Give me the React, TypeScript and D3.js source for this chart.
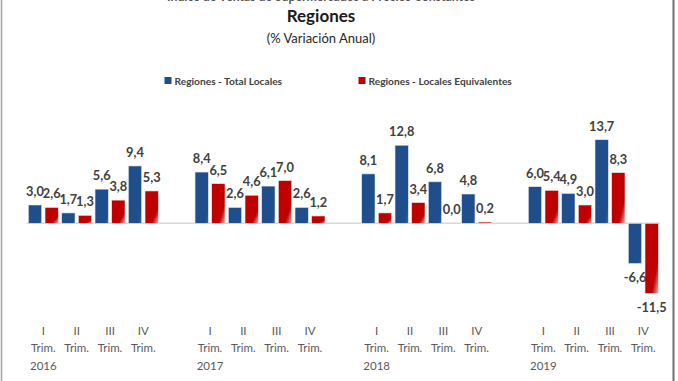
import React from "react";
import * as d3 from "d3";

const years = ["2016", "2017", "2018", "2019"];
const quarters = ["I", "II", "III", "IV"];
const seriesNames = ["Regiones - Total Locales", "Regiones - Locales Equivalentes"];
const seriesColors = ["#1f4e8c", "#c00000"];
const totalLocales = [3.0, 1.7, 5.6, 9.4, 8.4, 2.6, 6.1, 2.6, 8.1, 12.8, 6.8, 4.8, 6.0, 4.9, 13.7, -6.6];
const localesEquivalentes = [2.6, 1.3, 3.8, 5.3, 6.5, 4.6, 7.0, 1.2, 1.7, 3.4, 0.0, 0.2, 5.4, 3.0, 8.3, -11.5];
const titleTop = "Índice de Ventas de Supermercados a Precios Constantes";
const title = "Regiones";
const subtitle = "(% Variación Anual)";

const W = 678;
const H = 381;
const FONT = "Lato, 'Open Sans', sans-serif";

const locale = d3.formatLocale({
  decimal: ",",
  thousands: ".",
  grouping: [3],
  currency: ["", ""],
  minus: "-",
});
const fmt = locale.format(".1f");

type Cat = { key: string; year: string; q: string; qi: number; idx: number };

export default function App() {
  const cats: Cat[] = [];
  const domain: string[] = [];
  years.forEach((y, yi) => {
    quarters.forEach((q, qi) => {
      const key = `${y}-${q}`;
      cats.push({ key, year: y, q, qi, idx: yi * 4 + qi });
      domain.push(key);
    });
    if (yi < years.length - 1) domain.push(`gap-${y}`);
  });

  const x = d3.scaleBand<string>().domain(domain).range([26.7, 660]).padding(0);
  const xs = d3
    .scaleBand<number>()
    .domain([0, 1])
    .range([0, x.bandwidth()])
    .paddingInner(0.2)
    .paddingOuter(0.1);
  const y = d3.scaleLinear().domain([0, 10]).range([223.3, 162.3]);
  const y0 = y(0);
  const series = [totalLocales, localesEquivalentes];

  return (
    <div style={{ position: "absolute", left: 0, top: 0 }}>
      <svg width={W} height={H} style={{ display: "block", background: "#fff" }}>
        <defs>
          <linearGradient id="gradRed" x1="0" y1="0" x2="1" y2="1">
            <stop offset="0" stopColor="#c00000" />
            <stop offset="0.75" stopColor="#c00000" />
            <stop offset="1" stopColor="#eab0b0" />
          </linearGradient>
          <linearGradient id="gradBlue" x1="0" y1="0" x2="1" y2="1">
            <stop offset="0" stopColor="#1f4e8c" />
            <stop offset="0.85" stopColor="#1f4e8c" />
            <stop offset="1" stopColor="#3d689f" />
          </linearGradient>
        </defs>
        <rect x={0} y={0} width={W} height={H} fill="#fff" />
        {/* borders */}
        <line x1={1.5} x2={1.5} y1={0} y2={H} stroke="#a6a6a6" strokeWidth={1.5} />
        <line x1={673.5} x2={673.5} y1={0} y2={H} stroke="#6e6e6e" strokeWidth={2} />

        {/* titles */}
        <text
          x={321}
          y={1.2}
          textAnchor="middle"
          fontFamily={FONT}
          fontWeight="bold"
          fontSize={16}
          fill="#555"
          textLength={308}
          lengthAdjust="spacingAndGlyphs"
        >
          {titleTop}
        </text>
        <text x={321} y={22} textAnchor="middle" fontFamily={FONT} fontWeight="bold" fontSize={17} fill="#1a1a1a">
          {title}
        </text>
        <text x={321} y={43} textAnchor="middle" fontFamily={FONT} fontSize={13} fill="#262626">
          {subtitle}
        </text>

        {/* legend */}
        {[
          { sx: 164.5, tx: 174.5 },
          { sx: 358.5, tx: 368.5 },
        ].map((p, i) => (
          <g key={i}>
            <rect x={p.sx} y={77} width={7} height={7} fill={seriesColors[i]} />
            <text x={p.tx} y={84.5} fontFamily={FONT} fontWeight="bold" fontSize={10.2} fill="#404040">
              {seriesNames[i]}
            </text>
          </g>
        ))}

        {/* baseline */}
        <line x1={26.7} x2={660} y1={y0} y2={y0} stroke="#d9d9d9" strokeWidth={1.5} />

        {/* bars */}
        {cats.map((c) =>
          series.map((s, si) => {
            const v = s[c.idx];
            const bx = (x(c.key) as number) + (xs(si) as number);
            const bw = xs.bandwidth();
            const top = Math.min(y(v), y0);
            const h = Math.abs(y(v) - y0);
            return (
              <rect
                key={`${c.key}-${si}`}
                x={bx}
                y={top}
                width={bw}
                height={h}
                fill={si === 0 ? "url(#gradBlue)" : "url(#gradRed)"}
                stroke="#e6e6e6"
                strokeWidth={0.6}
              />
            );
          })
        )}

        {/* data labels */}
        {cats.map((c) =>
          series.map((s, si) => {
            const v = s[c.idx];
            const cx = (x(c.key) as number) + (xs(si) as number) + xs.bandwidth() / 2;
            const ty = v >= 0 ? y(v) - 9 : y(v) + 18.5;
            return (
              <text
                key={`l-${c.key}-${si}`}
                x={cx}
                y={ty}
                textAnchor="middle"
                fontFamily={FONT}
                fontWeight="bold"
                fontSize={12.8}
                fill="#404040"
              >
                {fmt(v)}
              </text>
            );
          })
        )}

        {/* category labels */}
        {cats.map((c) => {
          const cx = (x(c.key) as number) + x.bandwidth() / 2;
          return (
            <g key={`c-${c.key}`} fontFamily={FONT} fontSize={11.5} fill="#595959" textAnchor="middle">
              <text x={cx} y={334.5}>{c.q}</text>
              <text x={cx} y={352}>Trim.</text>
              {c.qi === 0 && <text x={cx} y={369.5}>{c.year}</text>}
            </g>
          );
        })}
      </svg>
    </div>
  );
}
